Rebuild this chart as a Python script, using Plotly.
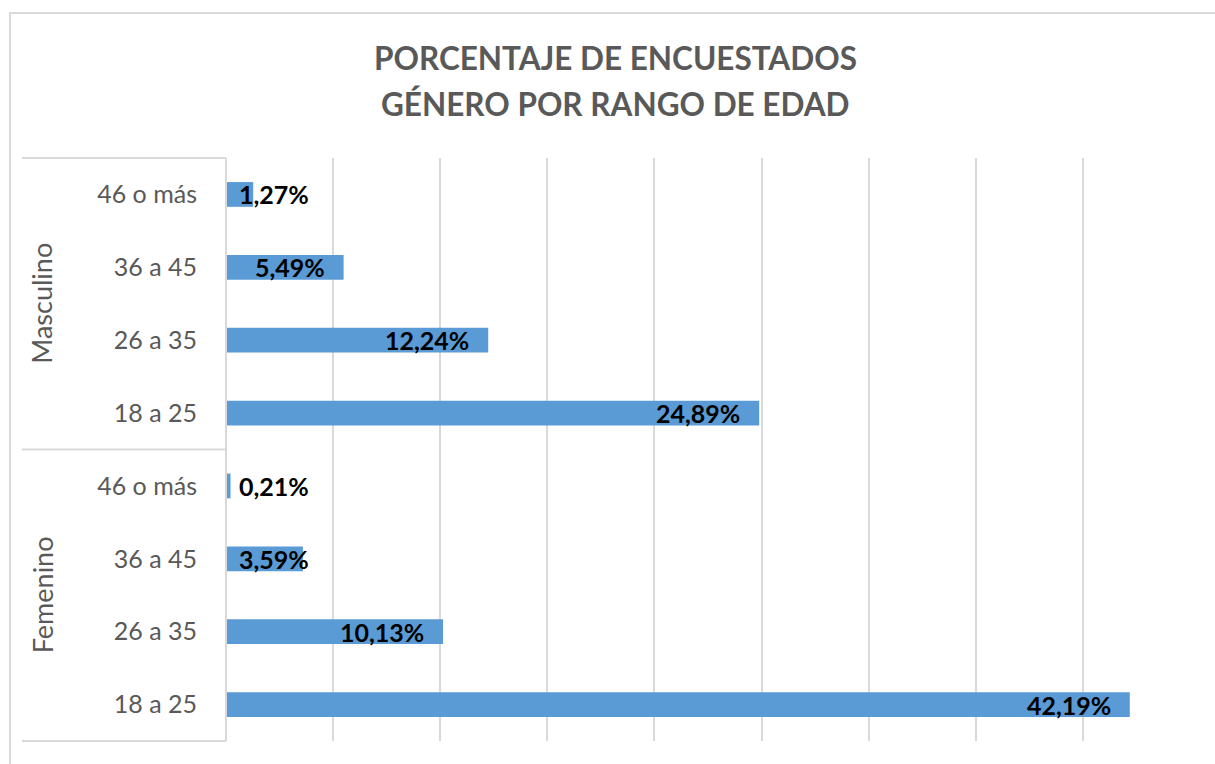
import plotly.graph_objects as go

# ---- data ----
groups = ["Femenino", "Femenino", "Femenino", "Femenino",
          "Masculino", "Masculino", "Masculino", "Masculino"]
age_ranges = ["18 a 25", "26 a 35", "36 a 45", "46 o más",
              "18 a 25", "26 a 35", "36 a 45", "46 o más"]
percentages = [42.19, 10.13, 3.59, 0.21, 24.89, 12.24, 5.49, 1.27]
title_lines = ["PORCENTAJE DE ENCUESTADOS", "GÉNERO POR RANGO DE EDAD"]

# ---- layout geometry (pixels) ----
W, H = 1215, 764
L, R, T, B = 226, 25, 158, 23
pw, ph = W - L - R, H - T - B
XMAX = 45

def px(xp):  # pixel -> paper x
    return (xp - L) / pw

def py(yp):  # pixel -> paper y
    return (H - B - yp) / ph

FONT = "Lato, 'Open Sans', sans-serif"
GRID = "#d9d9d9"
GRAY = "#595959"

ypos = list(range(len(percentages)))

fig = go.Figure()
fig.add_trace(go.Bar(
    x=percentages, y=ypos, orientation="h",
    marker=dict(color="#5b9bd5", line=dict(width=0)),
    width=0.34, hoverinfo="x+y", showlegend=False,
))

annotations = []
# data labels (Excel "inside end" style)
px_per = pw / XMAX
for v, yv in zip(percentages, ypos):
    txt = f"{v:.2f}".replace(".", ",") + "%"
    est_w = 14.6 * (len(txt) - 2) + 6.5 + 20
    if v * px_per - 17 - est_w >= 11:
        annotations.append(dict(x=v, y=yv, xref="x", yref="y", text=f"<b>{txt}</b>",
                                showarrow=False, xanchor="right", xshift=-17,
                                font=dict(family=FONT, size=25, color="#000000")))
    else:
        annotations.append(dict(x=0, y=yv, xref="x", yref="y", text=f"<b>{txt}</b>",
                                showarrow=False, xanchor="left", xshift=11,
                                font=dict(family=FONT, size=25, color="#000000")))

# group labels (rotated)
unique_groups = []
for g in groups:
    if g not in unique_groups:
        unique_groups.append(g)
for g in unique_groups:
    idx = [i for i, gg in enumerate(groups) if gg == g]
    ymid = (idx[0] + idx[-1]) / 2
    annotations.append(dict(x=px(42), y=ymid, xref="paper", yref="y", text=g,
                            showarrow=False, textangle=-90, xanchor="center", yanchor="middle",
                            font=dict(family=FONT, size=27, color=GRAY)))

# title lines
for i, line in enumerate(title_lines):
    annotations.append(dict(x=px(615), y=py(58 + 46 * i), xref="paper", yref="paper",
                            text=f"<b>{line}</b>", showarrow=False,
                            xanchor="center", yanchor="middle",
                            font=dict(family=FONT, size=31.5, color=GRAY)))

shapes = []
# outer chart border
shapes.append(dict(type="rect", xref="paper", yref="paper",
                   x0=px(10), x1=px(1230), y0=py(780), y1=py(13),
                   line=dict(color=GRID, width=2), fillcolor="rgba(0,0,0,0)", layer="below"))
# category box lines
for yp in [158, 449.5, 741]:
    shapes.append(dict(type="line", xref="paper", yref="paper",
                       x0=px(22), x1=px(226), y0=py(yp), y1=py(yp),
                       line=dict(color=GRID, width=2)))
shapes.append(dict(type="line", xref="paper", yref="paper",
                   x0=0, x1=0, y0=0, y1=1, line=dict(color=GRID, width=2)))

fig.update_layout(
    width=W, height=H,
    margin=dict(l=L, r=R, t=T, b=B),
    paper_bgcolor="white", plot_bgcolor="white",
    bargap=0.66,
    xaxis=dict(range=[0, XMAX], dtick=5, tick0=0, showgrid=True, gridcolor=GRID,
               gridwidth=2, showticklabels=False, zeroline=False, showline=False,
               fixedrange=True),
    yaxis=dict(range=[-0.5, len(percentages) - 0.5], tickmode="array",
               tickvals=ypos, ticktext=age_ranges, showgrid=False, zeroline=False,
               showline=False, ticks="", ticklabelstandoff=28,
               tickfont=dict(family=FONT, size=25, color=GRAY), fixedrange=True),
    annotations=annotations,
    shapes=shapes,
)

fig.write_html("out.html", config={"displayModeBar": False},
               post_script="document.body.style.margin='0px';document.body.style.overflow='hidden';")
